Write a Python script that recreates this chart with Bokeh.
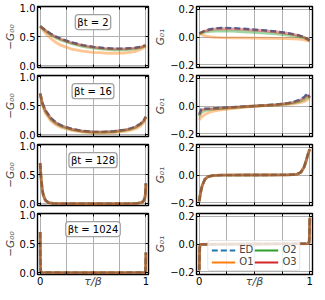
from bokeh.plotting import figure
from bokeh.layouts import gridplot
from bokeh.models import (Range1d, FixedTicker, LinearAxis, Label, Legend, LegendItem,
                          CustomJSTickFormatter, AllLabels)
from bokeh.embed import file_html
from bokeh.resources import INLINE

# ---------------- data ----------------
series_names = ["ED", "O1", "O2", "O3"]
bt_labels = ["βt = 2", "βt = 16", "βt = 128", "βt = 1024"]

x_ticks = [0, 0.25, 0.5, 0.75, 1]
x_tick_labels = ["0", "", "", "", "1"]
g00_ticks = [0.0, 0.5, 1.0]
g00_tick_labels = ["0.0", "0.5", "1.0"]
g01_ticks = [-0.2, 0.0, 0.2]
g01_tick_labels = ["−0.2", "0.0", "0.2"]

# beta t = 2
tau_bt2 = [0, 0.05, 0.1, 0.15, 0.2, 0.3, 0.4, 0.5, 0.6, 0.7, 0.8, 0.9, 0.95, 1.0]
g00_ed_bt2 = [0.68, 0.61, 0.55, 0.50, 0.46, 0.40, 0.355, 0.325, 0.305, 0.295, 0.295, 0.31, 0.325, 0.35]
g00_o1_bt2 = [0.68, 0.56, 0.47, 0.40, 0.35, 0.285, 0.25, 0.23, 0.22, 0.215, 0.22, 0.245, 0.28, 0.34]
g00_o2_bt2 = [0.68, 0.60, 0.53, 0.48, 0.44, 0.38, 0.335, 0.305, 0.285, 0.275, 0.275, 0.29, 0.31, 0.34]
g00_o3_bt2 = [0.68, 0.61, 0.545, 0.495, 0.455, 0.395, 0.35, 0.32, 0.30, 0.29, 0.29, 0.305, 0.32, 0.35]
g01_ed_bt2 = [0.025, 0.045, 0.056, 0.062, 0.065, 0.064, 0.059, 0.053, 0.047, 0.039, 0.028, 0.012, 0.0, -0.025]
g01_o1_bt2 = [0.025, 0.008, 0.001, -0.002, -0.004, -0.006, -0.007, -0.008, -0.009, -0.010, -0.012, -0.016, -0.020, -0.03]
g01_o2_bt2 = [0.025, 0.036, 0.041, 0.043, 0.044, 0.042, 0.038, 0.033, 0.028, 0.022, 0.014, 0.003, -0.007, -0.025]
g01_o3_bt2 = [0.025, 0.043, 0.053, 0.058, 0.060, 0.059, 0.055, 0.050, 0.044, 0.036, 0.026, 0.010, -0.002, -0.025]

# beta t = 16
tau_bt16 = [0, 0.02, 0.05, 0.1, 0.15, 0.2, 0.3, 0.4, 0.5, 0.6, 0.7, 0.8, 0.85, 0.9, 0.95, 0.98, 1.0]
g00_ed_bt16 = [0.71, 0.55, 0.42, 0.29, 0.21, 0.16, 0.10, 0.065, 0.05, 0.05, 0.06, 0.085, 0.105, 0.135, 0.19, 0.245, 0.31]
g00_o1_bt16 = [0.71, 0.52, 0.37, 0.24, 0.17, 0.125, 0.075, 0.045, 0.032, 0.03, 0.038, 0.058, 0.075, 0.10, 0.15, 0.21, 0.30]
g00_o2_bt16 = [0.71, 0.54, 0.40, 0.27, 0.195, 0.145, 0.09, 0.057, 0.043, 0.042, 0.052, 0.075, 0.095, 0.125, 0.18, 0.235, 0.31]
g00_o3_bt16 = [0.71, 0.55, 0.415, 0.285, 0.205, 0.155, 0.097, 0.063, 0.048, 0.048, 0.058, 0.083, 0.103, 0.133, 0.188, 0.243, 0.31]
g01_ed_bt16 = [-0.06, -0.018, -0.02, -0.019, -0.016, -0.014, -0.009, -0.004, 0.0, 0.005, 0.011, 0.02, 0.028, 0.042, 0.065, 0.09, 0.06]
g01_o1_bt16 = [-0.10, -0.08, -0.062, -0.043, -0.034, -0.028, -0.018, -0.009, -0.002, 0.003, 0.007, 0.012, 0.016, 0.022, 0.032, 0.045, 0.06]
g01_o2_bt16 = [-0.075, -0.045, -0.034, -0.026, -0.021, -0.018, -0.012, -0.006, 0.0, 0.004, 0.009, 0.016, 0.022, 0.03, 0.045, 0.065, 0.06]
g01_o3_bt16 = [-0.065, -0.028, -0.023, -0.021, -0.018, -0.015, -0.01, -0.005, 0.0, 0.005, 0.01, 0.019, 0.026, 0.038, 0.058, 0.08, 0.06]

# beta t = 128
tau_bt128 = [0, 0.005, 0.01, 0.02, 0.03, 0.05, 0.08, 0.12, 0.2, 0.5, 0.8, 0.88, 0.92, 0.95, 0.97, 0.98, 0.99, 0.995, 1.0]
g00_ed_bt128 = [0.70, 0.55, 0.42, 0.25, 0.15, 0.06, 0.02, 0.006, 0.001, 0.0, 0.001, 0.004, 0.008, 0.018, 0.035, 0.055, 0.10, 0.16, 0.35]
g00_o1_bt128 = [0.70, 0.54, 0.41, 0.24, 0.14, 0.055, 0.018, 0.005, 0.001, 0.0, 0.001, 0.003, 0.007, 0.016, 0.032, 0.052, 0.095, 0.155, 0.34]
g00_o2_bt128 = [0.70, 0.55, 0.42, 0.25, 0.15, 0.06, 0.02, 0.006, 0.001, 0.0, 0.001, 0.004, 0.008, 0.018, 0.035, 0.055, 0.10, 0.16, 0.35]
g00_o3_bt128 = [0.70, 0.55, 0.42, 0.25, 0.15, 0.06, 0.02, 0.006, 0.001, 0.0, 0.001, 0.004, 0.008, 0.018, 0.035, 0.055, 0.10, 0.16, 0.35]
g01_ed_bt128 = [-0.19, -0.16, -0.135, -0.097, -0.07, -0.032, -0.012, -0.004, -0.001, 0.0, 0.001, 0.004, 0.02, 0.06, 0.11, 0.14, 0.165, 0.175, 0.185]
g01_o1_bt128 = [-0.19, -0.16, -0.135, -0.097, -0.07, -0.032, -0.012, -0.004, -0.001, 0.0, 0.001, 0.004, 0.018, 0.055, 0.105, 0.135, 0.16, 0.172, 0.185]
g01_o2_bt128 = [-0.19, -0.16, -0.135, -0.097, -0.07, -0.032, -0.012, -0.004, -0.001, 0.0, 0.001, 0.004, 0.02, 0.06, 0.11, 0.14, 0.165, 0.175, 0.185]
g01_o3_bt128 = [-0.19, -0.16, -0.135, -0.097, -0.07, -0.032, -0.012, -0.004, -0.001, 0.0, 0.001, 0.004, 0.02, 0.06, 0.11, 0.14, 0.165, 0.175, 0.185]

# beta t = 1024
tau_bt1024 = [0, 0.002, 0.004, 0.008, 0.5, 0.992, 0.996, 0.998, 1.0]
g00_ed_bt1024 = [0.70, 0.25, 0.06, 0.005, 0.0, 0.005, 0.04, 0.12, 0.35]
g00_o1_bt1024 = [0.70, 0.25, 0.06, 0.005, 0.0, 0.005, 0.04, 0.12, 0.35]
g00_o2_bt1024 = [0.70, 0.25, 0.06, 0.005, 0.0, 0.005, 0.04, 0.12, 0.35]
g00_o3_bt1024 = [0.70, 0.25, 0.06, 0.005, 0.0, 0.005, 0.04, 0.12, 0.35]
g01_ed_bt1024 = [-0.19, -0.10, -0.03, -0.003, 0.0, 0.003, 0.03, 0.10, 0.19]
g01_o1_bt1024 = [-0.19, -0.10, -0.03, -0.003, 0.0, 0.003, 0.03, 0.10, 0.19]
g01_o2_bt1024 = [-0.19, -0.10, -0.03, -0.003, 0.0, 0.003, 0.03, 0.10, 0.19]
g01_o3_bt1024 = [-0.19, -0.10, -0.03, -0.003, 0.0, 0.003, 0.03, 0.10, 0.19]

rows_data = [
    (tau_bt2, [g00_ed_bt2, g00_o1_bt2, g00_o2_bt2, g00_o3_bt2], [g01_ed_bt2, g01_o1_bt2, g01_o2_bt2, g01_o3_bt2]),
    (tau_bt16, [g00_ed_bt16, g00_o1_bt16, g00_o2_bt16, g00_o3_bt16], [g01_ed_bt16, g01_o1_bt16, g01_o2_bt16, g01_o3_bt16]),
    (tau_bt128, [g00_ed_bt128, g00_o1_bt128, g00_o2_bt128, g00_o3_bt128], [g01_ed_bt128, g01_o1_bt128, g01_o2_bt128, g01_o3_bt128]),
    (tau_bt1024, [g00_ed_bt1024, g00_o1_bt1024, g00_o2_bt1024, g00_o3_bt1024], [g01_ed_bt1024, g01_o1_bt1024, g01_o2_bt1024, g01_o3_bt1024]),
]

# ---------------- styling ----------------
FONT = "DejaVu Sans"
COLORS = {"ED": "#1f77b4", "O1": "#ff7f0e", "O2": "#2ca02c", "O3": "#d62728"}
GRID = "#b0b0b0"
FRAME_W = 119
FRAME_H = 61
LEFT_B = {"g00": 29, "g01": 42}
RIGHT_B = 3

FMT_CODE = """
let best = -1, bd = 1e9;
for (let i = 0; i < tvals.length; i++) {
  const d = Math.abs(tvals[i] - tick);
  if (d < bd) { bd = d; best = i; }
}
return bd < 1e-6 ? tlabs[best] : '';
"""


def safe_set(obj, **kw):
    for k, v in kw.items():
        try:
            setattr(obj, k, v)
        except Exception:
            pass


def style_axis(ax, ticks, labels, show):
    ax.ticker = FixedTicker(ticks=ticks, minor_ticks=[])
    ax.axis_line_color = None
    ax.major_tick_in = 3
    ax.major_tick_out = 0
    ax.major_tick_line_color = "black"
    ax.major_tick_line_width = 1
    ax.minor_tick_line_color = None
    if show:
        ax.formatter = CustomJSTickFormatter(args=dict(tvals=list(ticks), tlabs=list(labels)), code=FMT_CODE)
        ax.major_label_policy = AllLabels()
        ax.major_label_text_font = FONT
        ax.major_label_text_font_size = "10px"
        ax.major_label_text_color = "black"
        ax.major_label_standoff = 2
    else:
        ax.major_label_text_font_size = "0px"
        ax.major_label_standoff = 0


def make_panel(kind, r, tau, series):
    last = r == 3
    if kind == "g00":
        yr = Range1d(-0.03, 1.02)
        yt, yl, ylab = g00_ticks, g00_tick_labels, "−G₀₀"
    else:
        yr = Range1d(-0.22, 0.22)
        yt, yl, ylab = g01_ticks, g01_tick_labels, "G₀₁"
    top_b = 6 if r == 0 else 4
    bot_b = 16 if last else 4
    p = figure(width=LEFT_B[kind] + FRAME_W + RIGHT_B, height=top_b + FRAME_H + bot_b,
               x_range=Range1d(-0.025, 1.025), y_range=yr,
               output_backend="svg", toolbar_location=None, tools="",
               min_border_left=LEFT_B[kind], min_border_right=RIGHT_B,
               min_border_top=top_b, min_border_bottom=bot_b)
    p.background_fill_color = "white"
    p.border_fill_color = "white"
    p.border_fill_alpha = 0.0
    p.outline_line_color = "black"
    p.outline_line_width = 1.4
    p.outline_line_alpha = 1.0

    xa = p.xaxis[0]
    ya = p.yaxis[0]
    style_axis(xa, x_ticks, x_tick_labels, last)
    style_axis(ya, yt, yl, True)
    ya.axis_label = ylab
    ya.axis_label_text_font = FONT
    ya.axis_label_text_font_size = "10.5px"
    ya.axis_label_text_font_style = "italic"
    ya.axis_label_standoff = 1
    if last:
        xa.axis_label = "τ/β"
        xa.axis_label_text_font = FONT
        xa.axis_label_text_font_size = "11px"
        xa.axis_label_text_font_style = "italic"
        xa.axis_label_standoff = -13

    top = LinearAxis()
    right = LinearAxis()
    style_axis(top, x_ticks, x_tick_labels, False)
    style_axis(right, yt, yl, False)
    p.add_layout(top, "above")
    p.add_layout(right, "right")

    for g in p.xgrid + p.ygrid:
        g.grid_line_color = GRID
        g.grid_line_width = 1
    p.xgrid[0].ticker = FixedTicker(ticks=x_ticks)
    p.ygrid[0].ticker = FixedTicker(ticks=yt)

    for name, ys in zip(series_names, series):
        if name == "ED":
            p.line(tau, ys, line_color=COLORS[name], line_width=2.4, line_dash="6 3")
        else:
            p.line(tau, ys, line_color=COLORS[name], line_width=2.8, line_alpha=0.45)

    if kind == "g00":
        lab = Label(x=0.5, y=0.88, x_units="data", y_units="data", text=bt_labels[r],
                    text_align="center", text_baseline="top", text_font=FONT,
                    text_font_size="10px", text_color="black",
                    background_fill_color="white", background_fill_alpha=1.0,
                    border_line_color="#a0a0a0", border_line_width=1.3)
        safe_set(lab, padding=2, border_radius=3)
        p.add_layout(lab)

    if kind == "g01" and last:
        items = []
        nan = float("nan")
        for name in series_names:
            if name == "ED":
                rr = p.line([nan], [nan], line_color=COLORS[name], line_width=2.2, line_dash="6 3")
            else:
                rr = p.line([nan], [nan], line_color=COLORS[name], line_width=2.2)
            items.append(LegendItem(label=name, renderers=[rr]))
        leg = Legend(items=items, location="bottom_center", ncols=2,
                     label_text_font=FONT, label_text_font_size="10px",
                     glyph_width=24, glyph_height=10, label_height=10, label_width=14,
                     label_standoff=4, spacing=1, padding=3, margin=3,
                     border_line_color="#cccccc", border_line_width=1,
                     background_fill_color="white", background_fill_alpha=0.8)
        safe_set(leg, border_radius=3)
        p.add_layout(leg)
    return p


figs = []
for r, (tau, g00s, g01s) in enumerate(rows_data):
    figs.append([make_panel("g00", r, tau, g00s), make_panel("g01", r, tau, g01s)])

layout = gridplot(figs, toolbar_location=None)

open("out.html", "w").write(file_html(layout, INLINE))
